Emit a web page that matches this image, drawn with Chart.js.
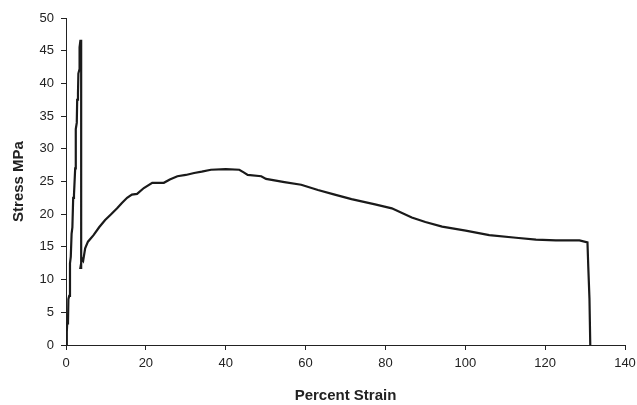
<!DOCTYPE html>
<html lang="en">
<head>
    <meta charset="UTF-8">
    <title>Stress vs Percent Strain</title>
    <script src="https://cdn.jsdelivr.net/npm/chart.js"></script>
    <style>
        body {
            margin: 0;
            background: #fff;
        }
        #chart {
            display: block;
        }
    </style>
</head>
<body>
    <canvas id="chart" width="637" height="405"></canvas>

    <script>
        // percent strain (x) and stress in MPa (y)
        const strain = [
            0, 0.2, 0.3, 0.5, 0.6, 0.8, 1.0, 1.2, 1.4, 1.6, 1.8, 2.0, 2.3, 2.4, 2.5, 2.7,
            2.8, 3.0, 3.1, 3.3, 3.4, 3.6, 3.8, 3.8, 3.6, 4.0, 4.3, 4.8, 5.5, 6.9, 8.3, 9.8,
            11.3, 12.8, 14.0, 15.3, 16.5, 17.8, 19.5, 21.6, 24.5, 26.0, 27.9, 30.0, 32.1, 34.0,
            36.3, 40.0, 43.4, 44.5, 45.5, 48.9, 50.1, 54.7, 58.9, 63.1, 67.3, 71.5, 77.4,
            81.6, 86.6, 90.0, 94.2, 100.1, 106.0, 112.7, 117.7, 122.7, 128.6, 130.6, 130.8,
            131.1, 131.3
        ];
        const stress = [
            0, 2.0, 3.3, 3.5, 7.0, 7.5, 12.5, 13.5, 17.0, 18.0, 22.5, 23.0, 27.0, 28.0, 33.0, 34.0,
            37.5, 38.5, 41.5, 42.0, 45.5, 46.5, 46.5, 11.8, 11.8, 13.2, 12.9, 14.8, 15.8, 16.8, 18.0, 19.1,
            20.0, 20.9, 21.7, 22.5, 23.0, 23.1, 24.0, 24.8, 24.8, 25.3, 25.8, 26.0, 26.3, 26.5,
            26.8, 26.9, 26.8, 26.4, 26.0, 25.8, 25.4, 24.9, 24.5, 23.7, 23.0, 22.3, 21.5,
            20.9, 19.5, 18.8, 18.1, 17.5, 16.8, 16.4, 16.1, 16.0, 16.0, 15.7, 12.0,
            7.1, 0
        ];
        const xTicks = [0, 20, 40, 60, 80, 100, 120, 140];
        const yTicks = [0, 5, 10, 15, 20, 25, 30, 35, 40, 45, 50];

        const points = strain.map((x, i) => ({ x: x, y: stress[i] }));

        const ctx = document.getElementById('chart').getContext('2d');
        new Chart(ctx, {
            type: 'scatter',
            data: {
                datasets: [{
                    data: points,
                    showLine: true,
                    borderColor: '#1a1a1a',
                    borderWidth: 2.2,
                    pointRadius: 0,
                    tension: 0
                }]
            },
            options: {
                responsive: false,
                animation: false,
                layout: {
                    padding: { left: 0, right: 12, top: 18, bottom: 0 }
                },
                plugins: {
                    legend: { display: false },
                    tooltip: { enabled: false }
                },
                scales: {
                    x: {
                        type: 'linear',
                        min: xTicks[0],
                        max: xTicks[xTicks.length - 1],
                        afterBuildTicks: function(scale) {
                            scale.ticks = xTicks.map(v => ({ value: v }));
                        },
                        afterFit: function(scale) {
                            scale.height = 60;
                            scale.paddingRight = 0;
                            scale.paddingLeft = 0;
                        },
                        grid: {
                            drawOnChartArea: false,
                            drawTicks: true,
                            tickLength: 5,
                            color: '#222'
                        },
                        border: { color: '#222', width: 1 },
                        ticks: {
                            color: '#222',
                            padding: 6,
                            maxRotation: 0,
                            font: { family: 'Liberation Sans, Arial, sans-serif', size: 13 }
                        },
                        title: {
                            display: true,
                            text: 'Percent Strain',
                            color: '#222',
                            padding: { top: 0, bottom: 0 },
                            font: { family: 'Liberation Sans, Arial, sans-serif', size: 15, weight: 'bold' }
                        }
                    },
                    y: {
                        type: 'linear',
                        min: yTicks[0],
                        max: yTicks[yTicks.length - 1],
                        afterBuildTicks: function(scale) {
                            scale.ticks = yTicks.map(v => ({ value: v }));
                        },
                        afterFit: function(scale) {
                            scale.width = 66;
                        },
                        grid: {
                            drawOnChartArea: false,
                            drawTicks: true,
                            tickLength: 5,
                            color: '#222'
                        },
                        border: { color: '#222', width: 1 },
                        ticks: {
                            color: '#222',
                            padding: 7,
                            font: { family: 'Liberation Sans, Arial, sans-serif', size: 13 }
                        },
                        title: {
                            display: true,
                            text: 'Stress MPa',
                            color: '#222',
                            padding: { top: 10, bottom: 0 },
                            font: { family: 'Liberation Sans, Arial, sans-serif', size: 15, weight: 'bold' }
                        }
                    }
                }
            }
        });
    </script>
</body>
</html>
